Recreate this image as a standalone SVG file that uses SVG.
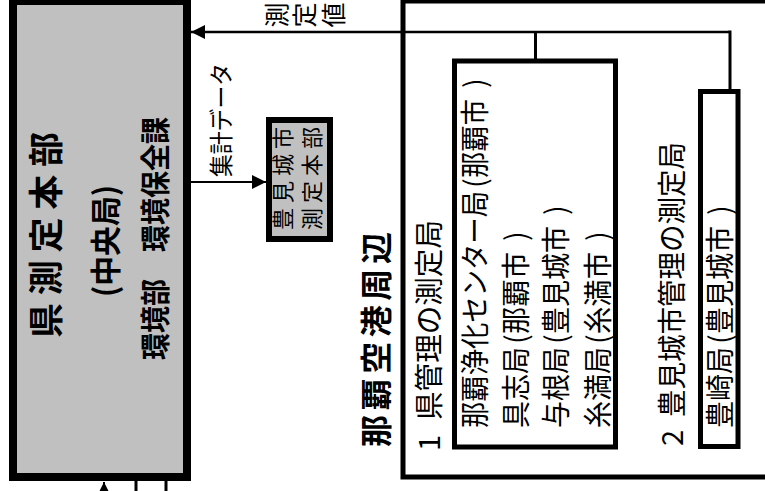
<svg xmlns="http://www.w3.org/2000/svg" width="765" height="491" viewBox="0 0 765 491">
<defs>
<style>
.t{font-family:"Noto Sans CJK JP","Noto Sans CJK SC",sans-serif;fill:#000;dominant-baseline:central}
.b{font-weight:bold}
.st{font-size:29px}
.box{stroke:#000;fill:#fff}
.ln{stroke:#000;fill:none}
</style>
<marker id="ah" markerUnits="userSpaceOnUse" markerWidth="14" markerHeight="14" refX="14" refY="7" orient="auto" viewBox="0 0 14 14">
<path d="M0,0 L14,7 L0,14 z" fill="#000"/>
</marker>
</defs>
<rect width="765" height="491" fill="#fff"/>

<g id="naha-area">
<rect class="box" x="403" y="1" width="400" height="476" stroke-width="5"/>
<text class="t b" font-size="32" textLength="215" lengthAdjust="spacing" transform="translate(374,447) rotate(-90)">那覇空港周辺</text>
<text class="t st" transform="translate(427,451) rotate(-90)"><tspan x="0">1</tspan><tspan x="31" textLength="200" lengthAdjust="spacingAndGlyphs">県管理の測定局</tspan></text>
<text class="t st" transform="translate(670,446) rotate(-90)"><tspan x="0">2</tspan><tspan x="29" textLength="275" lengthAdjust="spacingAndGlyphs">豊見城市管理の測定局</tspan></text>
</g>

<g id="connectors">
<line class="ln" x1="730" y1="32" x2="191" y2="32" stroke-width="2.5" marker-end="url(#ah)"/>
<line class="ln" x1="535.5" y1="32" x2="535.5" y2="61" stroke-width="3"/>
<line class="ln" x1="730" y1="30.5" x2="730" y2="91.5" stroke-width="3"/>
<line class="ln" x1="191" y1="182" x2="266" y2="182" stroke-width="2" marker-end="url(#ah)"/>
<line class="ln" x1="104" y1="500" x2="104" y2="482" stroke-width="2" marker-end="url(#ah)"/>
<line class="ln" x1="136" y1="481" x2="136" y2="491" stroke-width="3"/>
<line class="ln" x1="166" y1="481" x2="166" y2="491" stroke-width="3"/>
</g>

<g id="main-hq">
<rect x="13" y="1" width="174" height="476" fill="#c0c0c0" stroke="#000" stroke-width="8"/>
<text class="t b" font-size="35" textLength="206" lengthAdjust="spacing" transform="translate(43,338) rotate(-90)">県測定本部</text>
<text class="t b" font-size="31" textLength="112" lengthAdjust="spacingAndGlyphs" transform="translate(103,297) rotate(-90)">(中央局)</text>
<text class="t b" font-size="30" textLength="243" lengthAdjust="spacingAndGlyphs" transform="translate(153,360) rotate(-90)">環境部　環境保全課</text>
</g>

<g id="label-measure">
<text class="t" font-size="25" text-anchor="middle" transform="translate(275,15) rotate(-90)">測</text>
<text class="t" font-size="25" text-anchor="middle" transform="translate(303,15) rotate(-90)">定</text>
<text class="t" font-size="25" text-anchor="middle" transform="translate(332,15) rotate(-90)">値</text>
</g>
<g id="label-total">
<text class="t" font-size="24" textLength="114" lengthAdjust="spacingAndGlyphs" transform="translate(219,177) rotate(-90)">集計データ</text>
</g>

<g id="tomigusuku-hq">
<rect x="269" y="120" width="61" height="119" fill="#c0c0c0" stroke="#000" stroke-width="6"/>
<text class="t" font-size="22" textLength="103" lengthAdjust="spacing" transform="translate(281,230) rotate(-90)">豊見城市</text>
<text class="t" font-size="22" textLength="103" lengthAdjust="spacing" transform="translate(310,230) rotate(-90)">測定本部</text>
</g>

<g id="pref-stations">
<rect class="box" x="454.5" y="61" width="161" height="386" stroke-width="5"/>
<text class="t st" transform="translate(473,428) rotate(-90)"><tspan x="0" textLength="237" lengthAdjust="spacingAndGlyphs">那覇浄化センター局</tspan><tspan x="240">(</tspan><tspan x="250" textLength="79" lengthAdjust="spacingAndGlyphs">那覇市</tspan><tspan x="340">)</tspan></text>
<text class="t st" transform="translate(514,428) rotate(-90)"><tspan x="0" textLength="81" lengthAdjust="spacingAndGlyphs">具志局</tspan><tspan x="84">(</tspan><tspan x="94" textLength="82" lengthAdjust="spacingAndGlyphs">那覇市</tspan><tspan x="187">)</tspan></text>
<text class="t st" transform="translate(554,428) rotate(-90)"><tspan x="0" textLength="81" lengthAdjust="spacingAndGlyphs">与根局</tspan><tspan x="84">(</tspan><tspan x="94" textLength="108" lengthAdjust="spacingAndGlyphs">豊見城市</tspan><tspan x="213">)</tspan></text>
<text class="t st" transform="translate(596,428) rotate(-90)"><tspan x="0" textLength="81" lengthAdjust="spacingAndGlyphs">糸満局</tspan><tspan x="84">(</tspan><tspan x="94" textLength="82" lengthAdjust="spacingAndGlyphs">糸満市</tspan><tspan x="187">)</tspan></text>
</g>

<g id="city-stations">
<rect class="box" x="700.5" y="91.5" width="37.5" height="355" stroke-width="5"/>
<text class="t st" transform="translate(718,428) rotate(-90)"><tspan x="0" textLength="81" lengthAdjust="spacingAndGlyphs">豊崎局</tspan><tspan x="84">(</tspan><tspan x="94" textLength="108" lengthAdjust="spacingAndGlyphs">豊見城市</tspan><tspan x="213">)</tspan></text>
</g>
</svg>
